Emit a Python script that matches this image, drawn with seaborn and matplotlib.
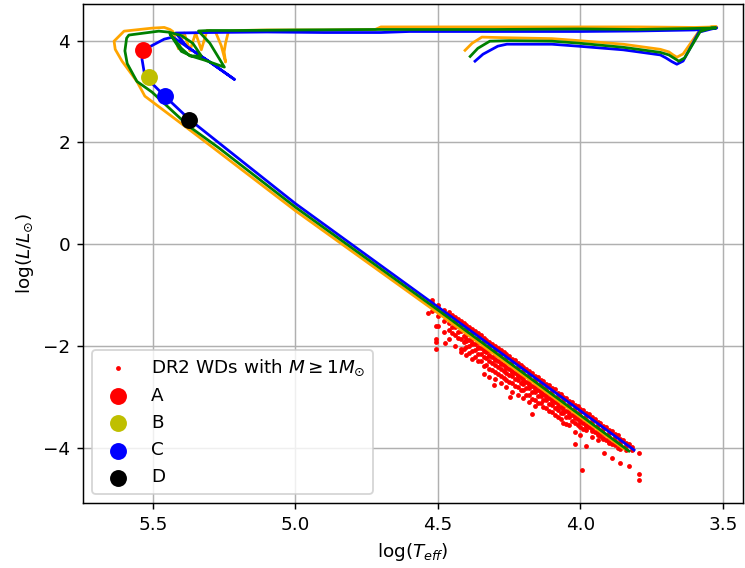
import numpy as np
import pandas as pd
import matplotlib
matplotlib.use("Agg")
import matplotlib.pyplot as plt
import seaborn as sns

# ---------------- data (log Teff, log L/Lsun) ----------------
blue_x = [4.370, 4.342, 4.290, 4.258, 4.10, 4.004, 3.85, 3.72, 3.70, 3.68, 3.662, 3.64, 3.585, 3.54, 3.522,
          3.60, 3.80, 4.00, 4.30, 4.60, 4.70, 4.90, 5.10, 5.30, 5.42, 5.38, 5.30, 5.214,
          5.30, 5.38, 5.43, 5.46, 5.535, 5.538, 5.528, 5.458, 5.371, 5.27, 5.00, 4.50, 3.812]
blue_y = [3.597, 3.734, 3.892, 3.931, 3.93, 3.89, 3.82, 3.72, 3.66, 3.59, 3.537, 3.60, 4.167, 4.23, 4.25,
          4.21, 4.19, 4.18, 4.18, 4.18, 4.16, 4.16, 4.17, 4.16, 4.15, 3.88, 3.58, 3.24,
          3.58, 3.88, 4.07, 4.03, 3.81, 3.636, 3.30, 2.91, 2.45, 2.00, 0.80, -1.23, -4.04]

green_x = [4.387, 4.36, 4.318, 4.25, 4.10, 4.004, 3.85, 3.72, 3.69, 3.67, 3.655, 3.635, 3.58, 3.54, 3.525,
           3.60, 3.80, 4.00, 4.30, 4.70, 5.00, 5.20, 5.30, 5.34, 5.30, 5.249, 5.32, 5.364, 5.40, 5.44,
           5.40, 5.37, 5.33, 5.36, 5.40, 5.444, 5.479, 5.584, 5.592, 5.598, 5.59, 5.556, 5.503, 5.374,
           5.27, 5.00, 4.50, 3.83]
green_y = [3.69, 3.85, 3.99, 4.00, 3.99, 3.95, 3.87, 3.77, 3.72, 3.65, 3.597, 3.66, 4.18, 4.25, 4.25,
           4.24, 4.22, 4.23, 4.22, 4.22, 4.21, 4.20, 4.20, 4.19, 3.95, 3.48, 3.62, 3.695, 3.79, 4.13,
           3.85, 3.70, 3.70, 3.95, 4.10, 4.167, 4.187, 4.11, 4.05, 3.80, 3.55, 3.20, 2.99, 2.32,
           1.90, 0.73, -1.29, -4.06]

orange_x = [4.405, 4.38, 4.346, 4.28, 4.10, 4.004, 3.85, 3.72, 3.69, 3.675, 3.662, 3.64, 3.58, 3.54, 3.522,
            3.60, 3.80, 4.00, 4.30, 4.60, 4.70, 4.72, 4.90, 5.10, 5.20, 5.235, 5.245, 5.25, 5.245, 5.26,
            5.28, 5.31, 5.33, 5.35, 5.37, 5.39, 5.41, 5.43, 5.44, 5.46, 5.503, 5.601, 5.636, 5.632,
            5.608, 5.556, 5.528, 5.388, 5.294, 5.00, 4.50, 3.847]
orange_y = [3.81, 3.95, 4.07, 4.06, 4.04, 4.00, 3.93, 3.83, 3.78, 3.72, 3.675, 3.74, 4.22, 4.27, 4.27,
            4.26, 4.27, 4.27, 4.27, 4.27, 4.27, 4.22, 4.21, 4.21, 4.20, 4.18, 3.95, 3.78, 3.58, 3.90,
            4.17, 4.20, 3.82, 4.15, 3.80, 4.15, 3.84, 4.18, 4.22, 4.26, 4.246, 4.187, 3.99, 3.83,
            3.597, 3.20, 2.91, 2.32, 1.92, 0.66, -1.35, -4.02]

# DR2 white dwarfs with M >= 1 Msun
wd_x = [4.52, 4.52, 4.52,
        4.50, 4.50, 4.50, 4.50,
        4.48, 4.48, 4.48, 4.48,
        4.46, 4.46, 4.46, 4.46, 4.46,
        4.44, 4.44, 4.44, 4.44, 4.44,
        4.42, 4.42, 4.42, 4.42, 4.42, 4.42,
        4.40, 4.40, 4.40, 4.40, 4.40, 4.40,
        4.38, 4.38, 4.38, 4.38, 4.38, 4.38,
        4.36, 4.36, 4.36, 4.36, 4.36, 4.36,
        4.34, 4.34, 4.34, 4.34, 4.34, 4.34, 4.34,
        4.32, 4.32, 4.32, 4.32, 4.32, 4.32, 4.32,
        4.30, 4.30, 4.30, 4.30, 4.30, 4.30, 4.30,
        4.28, 4.28, 4.28, 4.28, 4.28, 4.28, 4.28,
        4.26, 4.26, 4.26, 4.26, 4.26, 4.26, 4.26,
        4.24, 4.24, 4.24, 4.24, 4.24, 4.24, 4.24,
        4.22, 4.22, 4.22, 4.22, 4.22, 4.22, 4.22,
        4.20, 4.20, 4.20, 4.20, 4.20, 4.20, 4.20,
        4.18, 4.18, 4.18, 4.18, 4.18, 4.18, 4.18,
        4.16, 4.16, 4.16, 4.16, 4.16, 4.16, 4.16,
        4.14, 4.14, 4.14, 4.14, 4.14, 4.14,
        4.12, 4.12, 4.12, 4.12, 4.12, 4.12,
        4.10, 4.10, 4.10, 4.10, 4.10, 4.10,
        4.08, 4.08, 4.08, 4.08, 4.08, 4.08,
        4.06, 4.06, 4.06, 4.06, 4.06, 4.06,
        4.04, 4.04, 4.04, 4.04, 4.04, 4.04,
        4.02, 4.02, 4.02, 4.02, 4.02, 4.02,
        4.00, 4.00, 4.00, 4.00, 4.00, 4.00,
        3.98, 3.98, 3.98, 3.98, 3.98,
        3.96, 3.96, 3.96, 3.96, 3.96,
        3.94, 3.94, 3.94, 3.94, 3.94,
        3.92, 3.92, 3.92, 3.92,
        3.90, 3.90, 3.90, 3.90,
        3.88, 3.88, 3.88, 3.88,
        3.86, 3.86, 3.86, 3.86,
        3.84, 3.84, 3.84,
        3.82, 3.82,
        # upper fringe
        4.45, 4.43, 4.41, 4.39, 4.37, 4.35, 4.33, 4.31, 4.29, 4.27, 4.25, 4.23, 4.21, 4.19, 4.17, 4.15,
        4.13, 4.11, 4.09, 4.07, 4.05, 4.03, 4.01, 3.99, 3.97, 3.95, 3.93, 3.91, 3.89, 3.87, 3.85, 3.83,
        # dense band below the tracks
        4.45, 4.45, 4.43, 4.43, 4.41, 4.41, 4.39, 4.39, 4.37, 4.37, 4.35, 4.35, 4.33, 4.33, 4.31, 4.31,
        4.29, 4.29, 4.27, 4.27, 4.25, 4.25, 4.23, 4.23, 4.21, 4.21, 4.19, 4.19, 4.17, 4.17, 4.15, 4.15,
        4.13, 4.13, 4.11, 4.11, 4.09, 4.09, 4.07, 4.07, 4.05, 4.05, 4.03, 4.03, 4.01, 4.01, 3.99, 3.99,
        3.97, 3.95, 3.93, 3.91, 3.89, 3.87,
        4.41, 4.39, 4.37, 4.35, 4.33, 4.31, 4.29, 4.27, 4.25, 4.23, 4.21, 4.19, 4.17, 4.15, 4.13, 4.11,
        4.09, 4.07, 4.05,
        4.40, 4.38, 4.36, 4.34, 4.32, 4.30, 4.28, 4.26, 4.24, 4.22, 4.20, 4.18, 4.16, 4.14, 4.12, 4.10,
        4.08, 4.06, 4.04, 4.02, 4.00, 3.98, 3.96, 3.94, 3.92, 3.90,
        # isolated objects
        4.534, 4.506, 4.506, 4.506, 4.506, 4.464, 4.475, 4.304, 4.248, 4.171,
        4.021, 3.979, 3.993, 3.917, 3.889, 3.861, 3.829, 3.794, 3.794, 3.794]
wd_y = [-1.10, -1.16, -1.30,
        -1.19, -1.25, -1.40, -1.60,
        -1.28, -1.35, -1.50, -1.72,
        -1.33, -1.40, -1.55, -1.68, -1.85,
        -1.42, -1.50, -1.62, -1.78, -2.00,
        -1.50, -1.58, -1.70, -1.85, -2.05, -2.12,
        -1.58, -1.66, -1.78, -1.90, -2.02, -2.18,
        -1.66, -1.74, -1.85, -1.95, -2.10, -2.25,
        -1.75, -1.83, -1.92, -2.03, -2.15, -2.30,
        -1.83, -1.90, -2.00, -2.10, -2.22, -2.38, -2.55,
        -1.91, -1.99, -2.08, -2.18, -2.30, -2.45, -2.60,
        -2.00, -2.07, -2.16, -2.26, -2.36, -2.50, -2.64,
        -2.08, -2.15, -2.24, -2.33, -2.45, -2.58, -2.72,
        -2.16, -2.23, -2.31, -2.40, -2.52, -2.66, -2.80,
        -2.25, -2.32, -2.40, -2.48, -2.58, -2.72, -2.90,
        -2.33, -2.40, -2.48, -2.56, -2.66, -2.80, -2.95,
        -2.41, -2.48, -2.56, -2.64, -2.74, -2.86, -3.02,
        -2.49, -2.56, -2.63, -2.72, -2.82, -2.95, -3.10,
        -2.58, -2.64, -2.71, -2.80, -2.90, -3.05, -3.18,
        -2.66, -2.72, -2.79, -2.88, -2.98, -3.12,
        -2.74, -2.80, -2.87, -2.95, -3.05, -3.22,
        -2.82, -2.88, -2.95, -3.03, -3.15, -3.30,
        -2.91, -2.97, -3.04, -3.12, -3.25, -3.40,
        -2.99, -3.05, -3.12, -3.20, -3.32, -3.50,
        -3.07, -3.13, -3.20, -3.28, -3.40, -3.55,
        -3.16, -3.22, -3.29, -3.38, -3.50, -3.68,
        -3.24, -3.30, -3.37, -3.45, -3.58, -3.75,
        -3.32, -3.38, -3.45, -3.54, -3.65,
        -3.40, -3.46, -3.53, -3.62, -3.78,
        -3.49, -3.55, -3.62, -3.70, -3.85,
        -3.57, -3.63, -3.70, -3.80,
        -3.65, -3.71, -3.78, -3.88,
        -3.73, -3.79, -3.86, -3.95,
        -3.82, -3.88, -3.95, -4.02,
        -3.90, -3.96, -4.03,
        -3.98, -4.04,
        # upper fringe
        -1.38, -1.47, -1.55, -1.63, -1.71, -1.79, -1.87, -1.96, -2.04, -2.12, -2.20, -2.28, -2.36, -2.45,
        -2.53, -2.61, -2.69, -2.77, -2.85, -2.94, -3.02, -3.10, -3.18, -3.26, -3.34, -3.43, -3.51, -3.59,
        -3.67, -3.75, -3.84, -3.92,
        # dense band below the tracks
        -1.63, -1.75, -1.72, -1.84, -1.80, -1.92, -1.88, -2.00, -1.96, -2.08, -2.04, -2.16, -2.12, -2.24,
        -2.21, -2.33, -2.29, -2.41, -2.37, -2.49, -2.45, -2.57, -2.53, -2.65, -2.61, -2.73, -2.70, -2.82,
        -2.78, -2.90, -2.86, -2.98, -2.94, -3.06, -3.02, -3.14, -3.10, -3.22, -3.19, -3.31, -3.27, -3.39,
        -3.35, -3.47, -3.43, -3.55, -3.51, -3.63,
        -3.59, -3.68, -3.76, -3.84, -3.92, -4.00,
        -2.05, -2.13, -2.21, -2.29, -2.37, -2.46, -2.54, -2.62, -2.70, -2.78, -2.86, -2.95, -3.03, -3.11,
        -3.19, -3.27, -3.35, -3.44, -3.52,
        -1.86, -1.94, -2.02, -2.05, -2.19, -2.27, -2.35, -2.43, -2.51, -2.59, -2.68, -2.76, -2.84, -2.92,
        -3.00, -3.08, -3.17, -3.25, -3.33, -3.41, -3.49, -3.57, -3.66, -3.74, -3.82, -3.90,
        # isolated objects
        -1.345, -1.60, -1.86, -1.92, -2.05, -1.36, -1.94, -2.76, -3.00, -3.33,
        -3.92, -3.96, -4.43, -4.10, -4.20, -4.30, -4.36, -4.10, -4.51, -4.63]

# labelled points on the track
pt_labels = ["A", "B", "C", "D"]
pt_x = [5.535, 5.514, 5.458, 5.374]
pt_y = [3.81, 3.28, 2.91, 2.45]
pt_colors = ["r", "y", "b", "k"]

# ---------------- plot ----------------
DPI = 132
fig = plt.figure(figsize=(745 / DPI, 568 / DPI), dpi=DPI)
ax = fig.add_axes([83 / 745, (568 - 503) / 568, (743 - 83) / 745, (503 - 4) / 568])

sns.scatterplot(x=wd_x, y=wd_y, color="r", s=7, linewidth=0, ax=ax, zorder=1.5,
                label=r"DR2 WDs with $M \geq 1M_{\odot}$")

sns.lineplot(x=orange_x, y=orange_y, sort=False, estimator=None, color="orange", lw=1.5, ax=ax, zorder=2)
sns.lineplot(x=blue_x, y=blue_y, sort=False, estimator=None, color="b", lw=1.5, ax=ax, zorder=2)
sns.lineplot(x=green_x, y=green_y, sort=False, estimator=None, color="g", lw=1.5, ax=ax, zorder=2)

for lab, xx, yy, c in zip(pt_labels, pt_x, pt_y, pt_colors):
    sns.scatterplot(x=[xx], y=[yy], color=c, s=85, linewidth=0, ax=ax, zorder=4, label=lab)

ax.set_xlim(5.745, 3.43)
ax.set_ylim(-5.08, 4.72)
ax.set_xticks([5.5, 5.0, 4.5, 4.0, 3.5])
ax.set_yticks([-4, -2, 0, 2, 4])
ax.grid(True, color="#b0b0b0", linewidth=0.8)
ax.set_axisbelow(True)
ax.set_xlabel(r"log$(T_{eff})$")
ax.set_ylabel(r"log$(L/L_{\odot})$")
ax.legend(loc="lower left")

fig.savefig("out.png", dpi=DPI)
